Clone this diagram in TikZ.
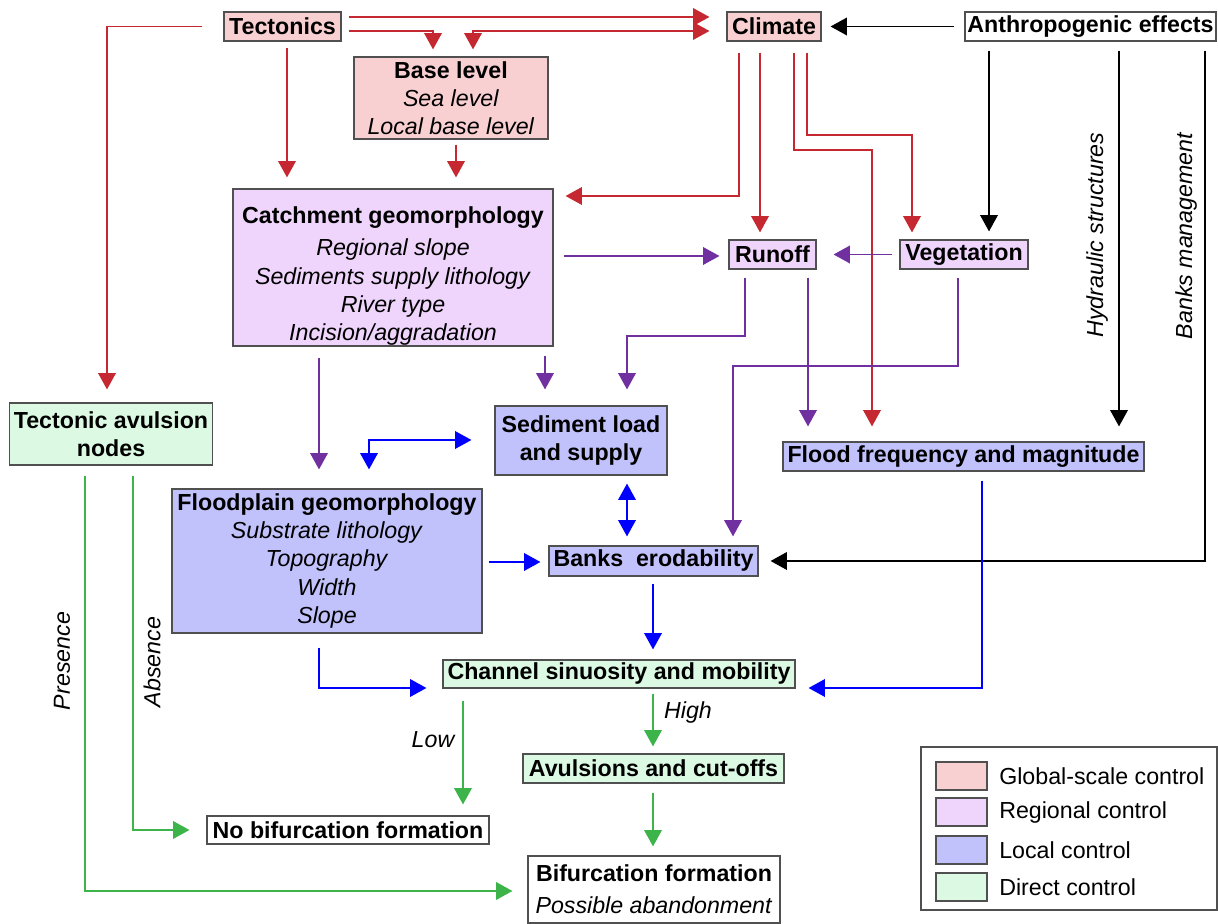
\documentclass[tikz,border=0pt]{standalone}
\usepackage{fontspec}
\setmainfont{Liberation Sans}
\usetikzlibrary{arrows.meta}
\definecolor{pinkf}{HTML}{F9D0D2}
\definecolor{purpf}{HTML}{EFD4FC}
\definecolor{bluef}{HTML}{C1C1FC}
\definecolor{greenf}{HTML}{DCF9E3}
\definecolor{boxc}{HTML}{505050}
\definecolor{rc}{HTML}{C62832}
\definecolor{pc}{HTML}{7030A0}
\definecolor{bc}{HTML}{0000FF}
\definecolor{gc}{HTML}{3CB44A}
\definecolor{bk}{HTML}{000000}
\begin{document}
\begin{tikzpicture}[x=0.025cm,y=-0.025cm,
  >={Triangle[length=0.41cm,width=0.44cm]},
  box/.style={draw=boxc,line width=0.8pt,inner sep=0pt,align=center,font=\fontsize{16.5}{20}\selectfont},
  sz/.style 2 args={minimum width=#1*0.025cm,minimum height=#2*0.025cm},
  con/.style={line width=1.2pt},
  sa/.style={shorten <=#1*0.025cm},
  sb/.style={shorten >=#1*0.025cm},
  lab/.style={inner sep=0pt,font=\fontsize{16.5}{20}\selectfont\itshape},
  legtext/.style={inner sep=0pt,anchor=west,font=\fontsize{16.5}{20}\selectfont}
]
\fill[white] (0,0) rectangle (1218,924);
\useasboundingbox (0,0) rectangle (1218,924);

% nodes
\node[box,fill=pinkf,sz={117}{29}] (tect) at (282.5,26.5) {\textbf{Tectonics}};
\node[box,fill=pinkf,sz={94}{29}] (clim) at (774,26.5) {\textbf{Climate}};
\node[box,fill=white,sz={251}{29}] (anth) at (1090.5,26.5) {\textbf{Anthropogenic effects}};
\node[box,fill=pinkf,sz={194}{82}] (base) at (451,98) {\textbf{Base level}\\\textit{Sea level}\\\textit{Local base level}};
\node[box,fill=purpf,sz={320}{157}] (catch) at (393,267.5) {\rule{0pt}{24pt}\textbf{Catchment geomorphology}\\[3pt]\textit{Regional slope}\\\textit{Sediments supply lithology}\\\textit{River type}\\\textit{Incision/aggradation}};
\node[box,fill=purpf,sz={87}{29}] (runoff) at (772.5,254.5) {\textbf{Runoff}};
\node[box,fill=purpf,sz={128}{29}] (veg) at (964,254.5) {\textbf{Vegetation}};
\node[box,fill=greenf,sz={203}{62}] (tan) at (111,434) {\textbf{Tectonic avulsion}\\\textbf{nodes}};
\node[box,fill=bluef,sz={172}{69}] (sed) at (581,440.5) {\textbf{Sediment load}\\\textbf{and supply}};
\node[box,fill=bluef,sz={361}{29}] (flood) at (963.5,456.5) {\textbf{Flood frequency and magnitude}};
\node[box,fill=bluef,sz={310}{144}] (fplain) at (327,561) {\textbf{Floodplain geomorphology}\\\textit{Substrate lithology}\\\textit{Topography}\\\textit{Width}\\\textit{Slope}};
\node[box,fill=bluef,sz={209}{30}] (banks) at (653.5,561) {\textbf{Banks~~erodability}};
\node[box,fill=greenf,sz={352}{28}] (chan) at (619,674) {\textbf{Channel sinuosity and mobility}};
\node[box,fill=greenf,sz={261}{29}] (avul) at (653.5,768.5) {\textbf{Avulsions and cut-offs}};
\node[box,fill=white,sz={282}{28}] (nobif) at (348,830) {\textbf{No bifurcation formation}};
\node[box,fill=white,sz={252}{67}] (bif) at (654,889.5) {\textbf{Bifurcation formation}\\[3pt]\textit{Possible abandonment}};

% legend
\node[box,fill=white,sz={296}{163}] (legend) at (1069,828.5) {};
\node[box,fill=pinkf,sz={51}{28}] (sw1) at (961.5,776) {};
\node[box,fill=purpf,sz={51}{28}] (sw2) at (961.5,812) {};
\node[box,fill=bluef,sz={51}{28}] (sw3) at (961.5,850) {};
\node[box,fill=greenf,sz={51}{28}] (sw4) at (961.5,887) {};
\node[legtext] (lt1) at (999,776) {Global-scale control};
\node[legtext] (lt2) at (999,812) {Regional control};
\node[legtext] (lt3) at (999,850) {Local control};
\node[legtext] (lt4) at (999,887) {Direct control};

% red connectors
\draw[con,rc,->,sa=7,sb=17] (tect.east |- 0,17) -- (clim.west |- 0,17);
\draw[con,rc,->,sa=7,sb=7] (tect.east |- 0,31) -| (433,0 |- base.north);
\draw[con,rc,<->,sa=7,sb=17] (473,0 |- base.north) |- (clim.west |- 0,31);
\draw[con,rc,->,sa=21,sb=13] (tect.west) -| (107,0 |- tan.north);
\draw[con,rc,->,sa=6,sb=11] (287,0 |- tect.south) -- (287,0 |- catch.north);
\draw[con,rc,->,sa=5,sb=11] (456,0 |- base.south) -- (456,0 |- catch.north);
\draw[con,rc,->,sa=11,sb=12] (739,0 |- clim.south) |- (catch.east |- 0,196);
\draw[con,rc,->,sa=11,sb=7] (760,0 |- clim.south) -- (760,0 |- runoff.north);
\draw[con,rc,->,sa=11,sb=15] (794,0 |- clim.south) |- (872,150) -- (872,0 |- flood.north);
\draw[con,rc,->,sa=11,sb=7] (807,0 |- clim.south) |- (912,135) -- (912,0 |- veg.north);

% black connectors
\draw[con,bk,->,sa=10,sb=9] (anth.west) -- (clim.east);
\draw[con,bk,->,sa=9,sb=8] (989,0 |- anth.south) -- (989,0 |- veg.north);
\draw[con,bk,->,sa=9,sb=15] (1119,0 |- anth.south) -- (1119,0 |- flood.north);
\draw[con,bk,->,sa=9,sb=12] (1205,0 |- anth.south) |- (banks.east);
\node[lab,rotate=90] (lhyd) at (1097,235) {Hydraulic structures};
\node[lab,rotate=90] (lbm) at (1186,236) {Banks management};

% purple connectors
\draw[con,pc,->,sa=10,sb=9] (catch.east |- 0,256) -- (runoff.west |- 0,256);
\draw[con,pc,->,sa=7,sb=17] (veg.west) -- (runoff.east);
\draw[con,pc,->,sa=8,sb=16] (745,0 |- runoff.south) |- (627,336) -- (627,0 |- sed.north);
\draw[con,pc,->,sa=8,sb=15] (808,0 |- runoff.south) -- (808,0 |- flood.north);
\draw[con,pc,->,sa=8,sb=9] (958,0 |- veg.south) |- (733,366) -- (733,0 |- banks.north);
\draw[con,pc,->,sa=9,sb=16] (545,0 |- catch.south) -- (545,0 |- sed.north);
\draw[con,pc,->,sa=11,sb=19] (319,0 |- catch.south) -- (319,0 |- fplain.north);

% blue connectors
\draw[con,bc,<->,sa=19,sb=23] (369,0 |- fplain.north) |- (sed.west |- 0,440);
\draw[con,bc,<->,sa=8,sb=9] (627,0 |- sed.south) -- (627,0 |- banks.north);
\draw[con,bc,->,sa=6,sb=8] (fplain.east |- 0,562) -- (banks.west |- 0,562);
\draw[con,bc,->,sa=7,sb=10] (653,0 |- banks.south) -- (653,0 |- chan.north);
\draw[con,bc,->,sa=14,sb=16] (319,0 |- fplain.south) |- (chan.west |- 0,688);
\draw[con,bc,->,sa=9,sb=13] (982,0 |- flood.south) |- (chan.east |- 0,688);

% green connectors
\draw[con,gc,->,sa=12,sb=11] (463,0 |- chan.south) -- (463,0 |- nobif.north);
\draw[con,gc,->,sa=5,sb=7] (653,0 |- chan.south) -- (653,0 |- avul.north);
\draw[con,gc,->,sa=9,sb=9] (653,0 |- avul.south) -- (653,0 |- bif.north);
\draw[con,gc,->,sa=10,sb=17] (133,0 |- tan.south) |- (nobif.west |- 0,830);
\draw[con,gc,->,sa=10,sb=15] (85,0 |- tan.south) |- (bif.west |- 0,891);
\node[lab] (llow) at (433,740) {Low};
\node[lab] (lhigh) at (688,713) {High};
\node[lab,rotate=90] (labs) at (152,662) {Absence};
\node[lab,rotate=90] (lpres) at (62,661) {Presence};
\end{tikzpicture}
\end{document}
